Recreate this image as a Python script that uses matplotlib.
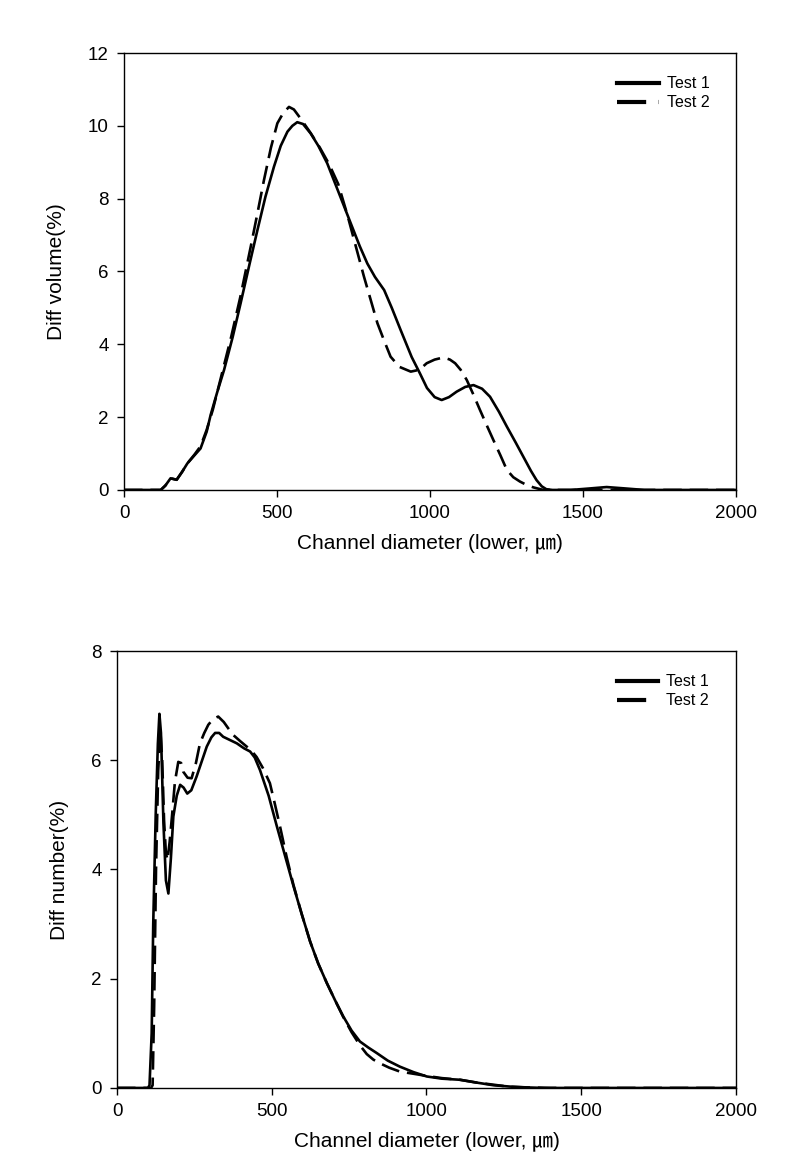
import numpy as np
import matplotlib
matplotlib.use('Agg')
import matplotlib.pyplot as plt

plt.rcParams['font.family'] = ['Liberation Sans', 'Noto Sans CJK KR', 'DejaVu Sans']

# Diff volume (%) vs channel diameter
vol_x1 = [0, 120, 135, 152, 172, 190, 207, 230, 250, 270, 283, 305, 327, 355, 381, 410, 436, 462, 490, 512,
          534, 550, 566, 585, 610, 635, 664, 700, 741, 770, 795, 820, 850, 875, 904, 940, 967, 990, 1015, 1038,
          1062, 1087, 1115, 1142, 1170, 1196, 1225, 1251, 1280, 1305, 1330, 1348, 1365, 1380, 1400, 1460, 1520,
          1577, 1640, 1700, 2000]
vol_y1 = [0, 0, 0.12, 0.32, 0.28, 0.5, 0.73, 0.95, 1.14, 1.6, 2.06, 2.7, 3.3, 4.2, 5.13, 6.2, 7.14, 8.05, 8.88, 9.45,
          9.84, 10.0, 10.1, 10.05, 9.79, 9.45, 8.97, 8.2, 7.32, 6.7, 6.22, 5.85, 5.49, 5.0, 4.39, 3.65, 3.2, 2.8, 2.55, 2.47,
          2.55, 2.7, 2.83, 2.88, 2.78, 2.56, 2.15, 1.74, 1.3, 0.91, 0.52, 0.27, 0.1, 0.02, 0, 0, 0.04,
          0.08, 0.04, 0, 0]
vol_x2 = [0, 120, 135, 152, 172, 190, 207, 230, 250, 270, 290, 320, 350, 380, 414, 436, 457, 480, 501, 520,
          539, 555, 577, 610, 640, 670, 700, 730, 752, 784, 805, 828, 850, 871, 900, 937, 965, 989, 1015, 1044,
          1065, 1082, 1100, 1120, 1140, 1163, 1185, 1207, 1230, 1251, 1272, 1294, 1315, 1338, 1370, 2000]
vol_y2 = [0, 0, 0.12, 0.32, 0.28, 0.5, 0.73, 0.97, 1.2, 1.65, 2.2, 3.2, 4.2, 5.3, 6.68, 7.6, 8.5, 9.4, 10.07, 10.35,
          10.52, 10.45, 10.2, 9.8, 9.4, 8.95, 8.4, 7.55, 6.86, 5.86, 5.25, 4.58, 4.1, 3.66, 3.38, 3.25, 3.3, 3.48, 3.58, 3.64,
          3.58, 3.48, 3.3, 3.02, 2.65, 2.2, 1.78, 1.37, 0.95, 0.55, 0.35, 0.23, 0.14, 0.07, 0, 0]

# Diff number (%) vs channel diameter
num_x1 = [0, 100, 105, 112, 117, 125, 132, 137, 142, 150, 158, 166, 174, 182, 193, 204, 215, 227, 240, 257,
          275, 290, 305, 317, 330, 343, 365, 387, 410, 430, 445, 462, 490, 516, 543, 570, 597, 624, 650, 678,
          705, 731, 758, 785, 812, 839, 875, 914, 958, 1001, 1050, 1108, 1160, 1216, 1270, 1324, 1380, 2000]
num_y1 = [0, 0, 0.05, 1.0, 3.0, 5.0, 6.3, 6.85, 6.5, 4.85, 3.8, 3.56, 4.2, 4.97, 5.35, 5.55, 5.5, 5.39, 5.45, 5.7,
          6.0, 6.25, 6.42, 6.5, 6.5, 6.43, 6.37, 6.31, 6.22, 6.16, 6.05, 5.82, 5.35, 4.8, 4.25, 3.7, 3.18, 2.68, 2.28, 1.92,
          1.6, 1.31, 1.05, 0.85, 0.74, 0.64, 0.5, 0.39, 0.29, 0.21, 0.17, 0.15, 0.1, 0.05, 0.025, 0.01, 0, 0]
num_x2 = [0, 110, 115, 120, 126, 133, 140, 146, 152, 158, 163, 170, 178, 187, 198, 207, 214, 228, 241, 255,
          268, 282, 295, 310, 327, 345, 360, 376, 398, 419, 435, 451, 472, 494, 510, 527, 548, 570, 597, 624,
          650, 678, 705, 731, 758, 785, 807, 828, 850, 880, 914, 958, 1001, 1050, 1108, 1160, 1216, 1270, 1320, 1400, 2000]
num_y2 = [0, 0, 0.05, 1.5, 4.0, 5.8, 6.55, 6.0, 4.9, 4.3, 4.17, 4.5, 5.0, 5.6, 5.97, 5.95, 5.79, 5.68, 5.67, 5.95,
          6.31, 6.5, 6.65, 6.75, 6.8, 6.7, 6.58, 6.46, 6.35, 6.25, 6.17, 6.06, 5.85, 5.58, 5.2, 4.78, 4.23, 3.72, 3.18, 2.68,
          2.28, 1.92, 1.6, 1.3, 1.02, 0.78, 0.62, 0.52, 0.45, 0.37, 0.3, 0.26, 0.22, 0.18, 0.15, 0.1, 0.06, 0.02, 0.01, 0, 0]

xticks = [0, 500, 1000, 1500, 2000]
xlabel = 'Channel diameter (lower, \u339b)'
labels = ['Test 1', 'Test 2']

fig = plt.figure(figsize=(8.07, 11.73), dpi=100)
ax1 = fig.add_axes([0.1537, 0.5823, 0.7584, 0.3725])
ax2 = fig.add_axes([0.145, 0.0725, 0.767, 0.3725])

def style(ax, ylim, yticks, ylabel):
    ax.set_xlim(0, 2000)
    ax.set_ylim(*ylim)
    ax.set_xticks(xticks)
    ax.set_yticks(yticks)
    ax.tick_params(direction='out', length=5, width=1, labelsize=13.5, pad=6)
    ax.set_xlabel(xlabel, fontsize=15, labelpad=8)
    ax.set_ylabel(ylabel, fontsize=15, labelpad=16)
    for s in ax.spines.values():
        s.set_linewidth(1)
    leg = ax.legend(frameon=False, loc='upper right', bbox_to_anchor=(0.98, 0.98),
                    fontsize=11.5, handlelength=2.6, labelspacing=0.25, handletextpad=0.5)
    for h in leg.get_lines():
        h.set_linewidth(3)

ax1.plot(vol_x1, vol_y1, color='black', lw=1.9, label=labels[0])
ax1.plot(vol_x2, vol_y2, color='black', lw=1.9, dashes=(7, 3), label=labels[1])
style(ax1, (0, 12), [0, 2, 4, 6, 8, 10, 12], 'Diff volume(%)')

ax2.plot(num_x1, num_y1, color='black', lw=1.9, label=labels[0])
ax2.plot(num_x2, num_y2, color='black', lw=1.9, dashes=(7, 3), label=labels[1])
style(ax2, (0, 8), [0, 2, 4, 6, 8], 'Diff number(%)')

fig.savefig('out.png', dpi=100)
